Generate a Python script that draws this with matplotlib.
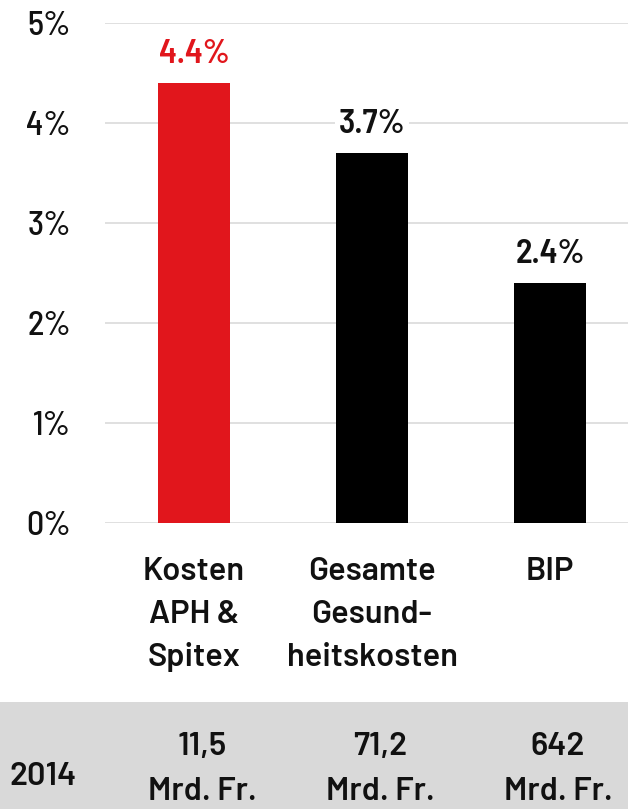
import matplotlib
matplotlib.use("Agg")
import matplotlib.pyplot as plt
from matplotlib.patches import Rectangle

# ---- data ----
categories = ["Kosten\nAPH &\nSpitex", "Gesamte\nGesund-\nheitskosten", "BIP"]
values = [4.4, 3.7, 2.4]
value_labels = ["4.4%", "3.7%", "2.4%"]
bar_colors = ["#e1161c", "#000000", "#000000"]
label_colors = ["#e1161c", "#111111", "#111111"]
yticks = [0, 1, 2, 3, 4, 5]
ytick_labels = ["0%", "1%", "2%", "3%", "4%", "5%"]
year_label = "2014"
amounts = ["11,5\nMrd. Fr.", "71,2\nMrd. Fr.", "642\nMrd. Fr."]

# ---- font ----
plt.rcParams["font.family"] = ["Barlow Semi Condensed", "DejaVu Sans"]
WIDE = ["Barlow", "Barlow Semi Condensed", "DejaVu Sans"]

W, H = 628, 809
DPI = 100
fig = plt.figure(figsize=(W / DPI, H / DPI), dpi=DPI)
fig.patch.set_facecolor("white")

def fx(px):
    return px / W

def fy(py):
    return 1 - py / H

# grey band
fig.patches.append(Rectangle((0, 0), 1, fy(702), transform=fig.transFigure,
                             facecolor="#d9d9d9", edgecolor="none", zorder=0))

ax_left, ax_right, ax_top, ax_bottom = 105, 628, 23, 523
ax = fig.add_axes([fx(ax_left), fy(ax_bottom), fx(ax_right - ax_left), fy(ax_top) - fy(ax_bottom)])
ax.set_facecolor("none")
ax.set_xlim(-0.5, 2.438)
ax.set_ylim(0, 5)
for s in ax.spines.values():
    s.set_visible(False)

x = list(range(len(categories)))
ax.set_yticks(yticks)
ax.set_yticklabels(ytick_labels, fontsize=24.5, color="#111111", fontweight=500)
ax.tick_params(axis="y", length=0, pad=24.5)
ax.set_xticks([])
ax.yaxis.grid(True, color="#dddddd", linewidth=1.3)
ax.set_axisbelow(True)

ax.bar(x, values, width=0.4, color=bar_colors, zorder=2)

for xi, v, lab, c in zip(x, values, value_labels, label_colors):
    ax.annotate(lab, (xi, v), xytext=(0, 14.4), textcoords="offset points",
                ha="center", va="baseline", fontsize=24.5, fontweight=600, color=c,
                bbox=dict(facecolor="white", edgecolor="none", pad=3), zorder=3)

# category labels below axis, positioned under bars
bar_px = [ax.transData.transform((xi, 0))[0] for xi in x]
cat_baselines = [580, 623, 666]
for bx, cat in zip(bar_px, categories):
    for i, line in enumerate(cat.split("\n")):
        fig.text(bx / W, fy(cat_baselines[i]), line, ha="center", va="baseline",
                 fontsize=23.5, fontweight=600, color="#111111", family=WIDE)

# bottom band
fig.text(fx(43), fy(785), year_label, ha="center", va="baseline",
         fontsize=23.5, fontweight=600, color="#111111", family=WIDE)
amt_baselines = [755, 800]
for bx, amt in zip(bar_px, amounts):
    for i, line in enumerate(amt.split("\n")):
        fig.text((bx + 8) / W, fy(amt_baselines[i]), line, ha="center", va="baseline",
                 fontsize=23.5, fontweight=600, color="#111111", family=WIDE)

fig.savefig("out.png", dpi=DPI, facecolor="white")
